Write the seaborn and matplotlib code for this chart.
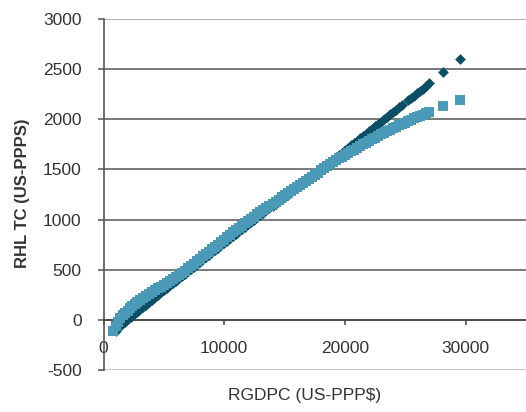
import matplotlib
matplotlib.use("Agg")
import matplotlib.pyplot as plt
import seaborn as sns
import pandas as pd

# ---- data ----
dark_x = [1000, 1250, 1500, 1750, 2000, 2250, 2500, 2750, 3000, 3250,
          3500, 3750, 4000, 4250, 4500, 4750, 5000, 5250, 5500, 5750,
          6000, 6250, 6500, 6750, 7000, 7250, 7500, 7750, 8000, 8250,
          8500, 8750, 9000, 9250, 9500, 9750, 10000, 10250, 10500, 10750,
          11000, 11250, 11500, 11750, 12000, 12250, 12500, 12750, 13000, 13250,
          13500, 13750, 14000, 14250, 14500, 14750, 15000, 15250, 15500, 15750,
          16000, 16250, 16500, 16750, 17000, 17250, 17500, 17750, 18000, 18250,
          18500, 18750, 19000, 19250, 19500, 19750, 20000, 20250, 20500, 20750,
          21000, 21250, 21500, 21750, 22000, 22250, 22500, 22750, 23000, 23250,
          23500, 23750, 24000, 24250, 24500, 24750,
          25250, 25500, 25750, 26000, 26250, 26500, 26750, 27000,
          28150, 29500]
dark_y = [-110, -72, -45, -20, 5, 30, 55, 80, 105, 127,
          150, 175, 200, 225, 250, 273, 295, 320, 345, 367,
          390, 413, 435, 460, 485, 507, 530, 555, 580, 603,
          625, 650, 675, 697, 720, 743, 765, 790, 815, 837,
          860, 884, 908, 930, 952, 976, 1000, 1021, 1043, 1067,
          1091, 1113, 1134, 1158, 1182, 1202, 1225, 1248, 1272, 1294,
          1315, 1339, 1363, 1384, 1406, 1430, 1455, 1478, 1500, 1525,
          1550, 1572, 1595, 1620, 1645, 1668, 1690, 1715, 1740, 1762,
          1785, 1810, 1835, 1858, 1880, 1905, 1930, 1952, 1975, 2000,
          2025, 2048, 2070, 2095, 2120, 2142,
          2188, 2210, 2235, 2258, 2282, 2306, 2330, 2360,
          2473, 2606]

light_x = [800, 1000, 1200, 1400, 1600, 1800, 2000, 2200, 2400, 2600,
           2800, 3000, 3250, 3500, 3750, 4000, 4250, 4500, 4750, 5000,
           5250, 5500, 5750, 6000, 6250, 6500, 6750, 7000, 7250, 7500,
           7750, 8000, 8250, 8500, 8750, 9000, 9250, 9500, 9750, 10000,
           10250, 10500, 10750, 11000, 11250, 11500, 11750, 12000, 12250, 12500,
           12750, 13000, 13250, 13500, 13750, 14000, 14250, 14500, 14750, 15000,
           15250, 15500, 15750, 16000, 16250, 16500, 16750, 17000, 17250, 17500,
           17750, 18000, 18250, 18500, 18750, 19000, 19250, 19500, 19750, 20000,
           20250, 20500, 20750, 21000, 21250, 21500, 21750, 22000, 22250, 22500,
           22750, 23000, 23250, 23500, 23750, 24000, 24250, 24500, 24750, 25000,
           25250, 25500, 25750, 26000, 26250, 26500, 26750, 27000,
           28150, 29500]
light_y = [-110, -60, -20, 15, 45, 70, 93, 115, 138, 160,
           178, 195, 215, 235, 255, 275, 295, 315, 332, 350,
           370, 390, 410, 430, 450, 470, 492, 515, 538, 560,
           585, 610, 632, 655, 680, 705, 728, 750, 775, 800,
           825, 850, 872, 895, 918, 940, 962, 985, 1008, 1030,
           1052, 1075, 1095, 1115, 1138, 1160, 1180, 1200, 1222, 1245,
           1265, 1285, 1305, 1325, 1345, 1365, 1385, 1405, 1425, 1445,
           1468, 1490, 1512, 1535, 1555, 1575, 1592, 1610, 1628, 1645,
           1662, 1680, 1698, 1715, 1732, 1750, 1768, 1785, 1800, 1815,
           1832, 1850, 1865, 1880, 1895, 1910, 1925, 1940, 1952, 1965,
           1980, 1995, 2008, 2020, 2032, 2045, 2058, 2070,
           2133, 2193]

y_ticks = [-500, 0, 500, 1000, 1500, 2000, 2500, 3000]
x_ticks = [0, 10000, 20000, 30000]
x_label = r"RGDPC (US-PPP\$)"
y_label = "RHL TC (US-PPPS)"

DARK = "#0b4e66"
LIGHT = "#4a9ab7"

sns.set_style("white")
plt.rcParams["font.family"] = ["Liberation Sans", "DejaVu Sans"]

fig = plt.figure(figsize=(5.26, 4.12), dpi=100)
ax = fig.add_axes([0.1968, 0.1019, 0.8032, 0.852])

dark_df = pd.DataFrame({"x": dark_x, "y": dark_y})
light_df = pd.DataFrame({"x": light_x, "y": light_y})

sns.scatterplot(data=dark_df, x="x", y="y", marker="D", s=30, color=DARK,
                linewidth=0, ax=ax, zorder=3)
sns.scatterplot(data=light_df, x="x", y="y", marker="s", s=42, color=LIGHT,
                linewidth=0, ax=ax, zorder=4)

ax.set_xlim(0, 35000)
ax.set_ylim(-500, 3000)
ax.set_yticks(y_ticks)
ax.set_xticks(x_ticks)
ax.set_xticklabels([str(v) for v in x_ticks])
ax.set_yticklabels([str(v) for v in y_ticks])

ax.yaxis.grid(True, color="#555555", linewidth=1.1)
ax.xaxis.grid(False)
ax.set_axisbelow(True)
gl = ax.get_ygridlines()
gl[0].set_color("#b5b5b5")
gl[-1].set_color("#999999")

for side in ["top", "right"]:
    ax.spines[side].set_visible(False)
ax.spines["left"].set_color("#555555")
ax.spines["left"].set_linewidth(1.2)
ax.spines["bottom"].set_position(("data", 0))
ax.spines["bottom"].set_color("#444444")
ax.spines["bottom"].set_linewidth(1.2)

ax.tick_params(axis="y", direction="out", length=4.3, width=1.1,
               color="#555555", labelsize=12.5, labelcolor="#333333", pad=11.5,
               left=True)
ax.tick_params(axis="x", direction="out", length=3.6, width=1.1,
               color="#444444", labelsize=12.5, labelcolor="#333333", pad=11.5,
               bottom=True)

ax.set_xlabel(x_label, fontsize=12.5, color="#333333")
ax.set_ylabel(y_label, fontsize=12, fontweight="bold", color="#333333")
ax.xaxis.set_label_coords(0.476, -0.051)
ax.yaxis.set_label_coords(-0.174, 0.505)

fig.savefig("out.png", dpi=100)
